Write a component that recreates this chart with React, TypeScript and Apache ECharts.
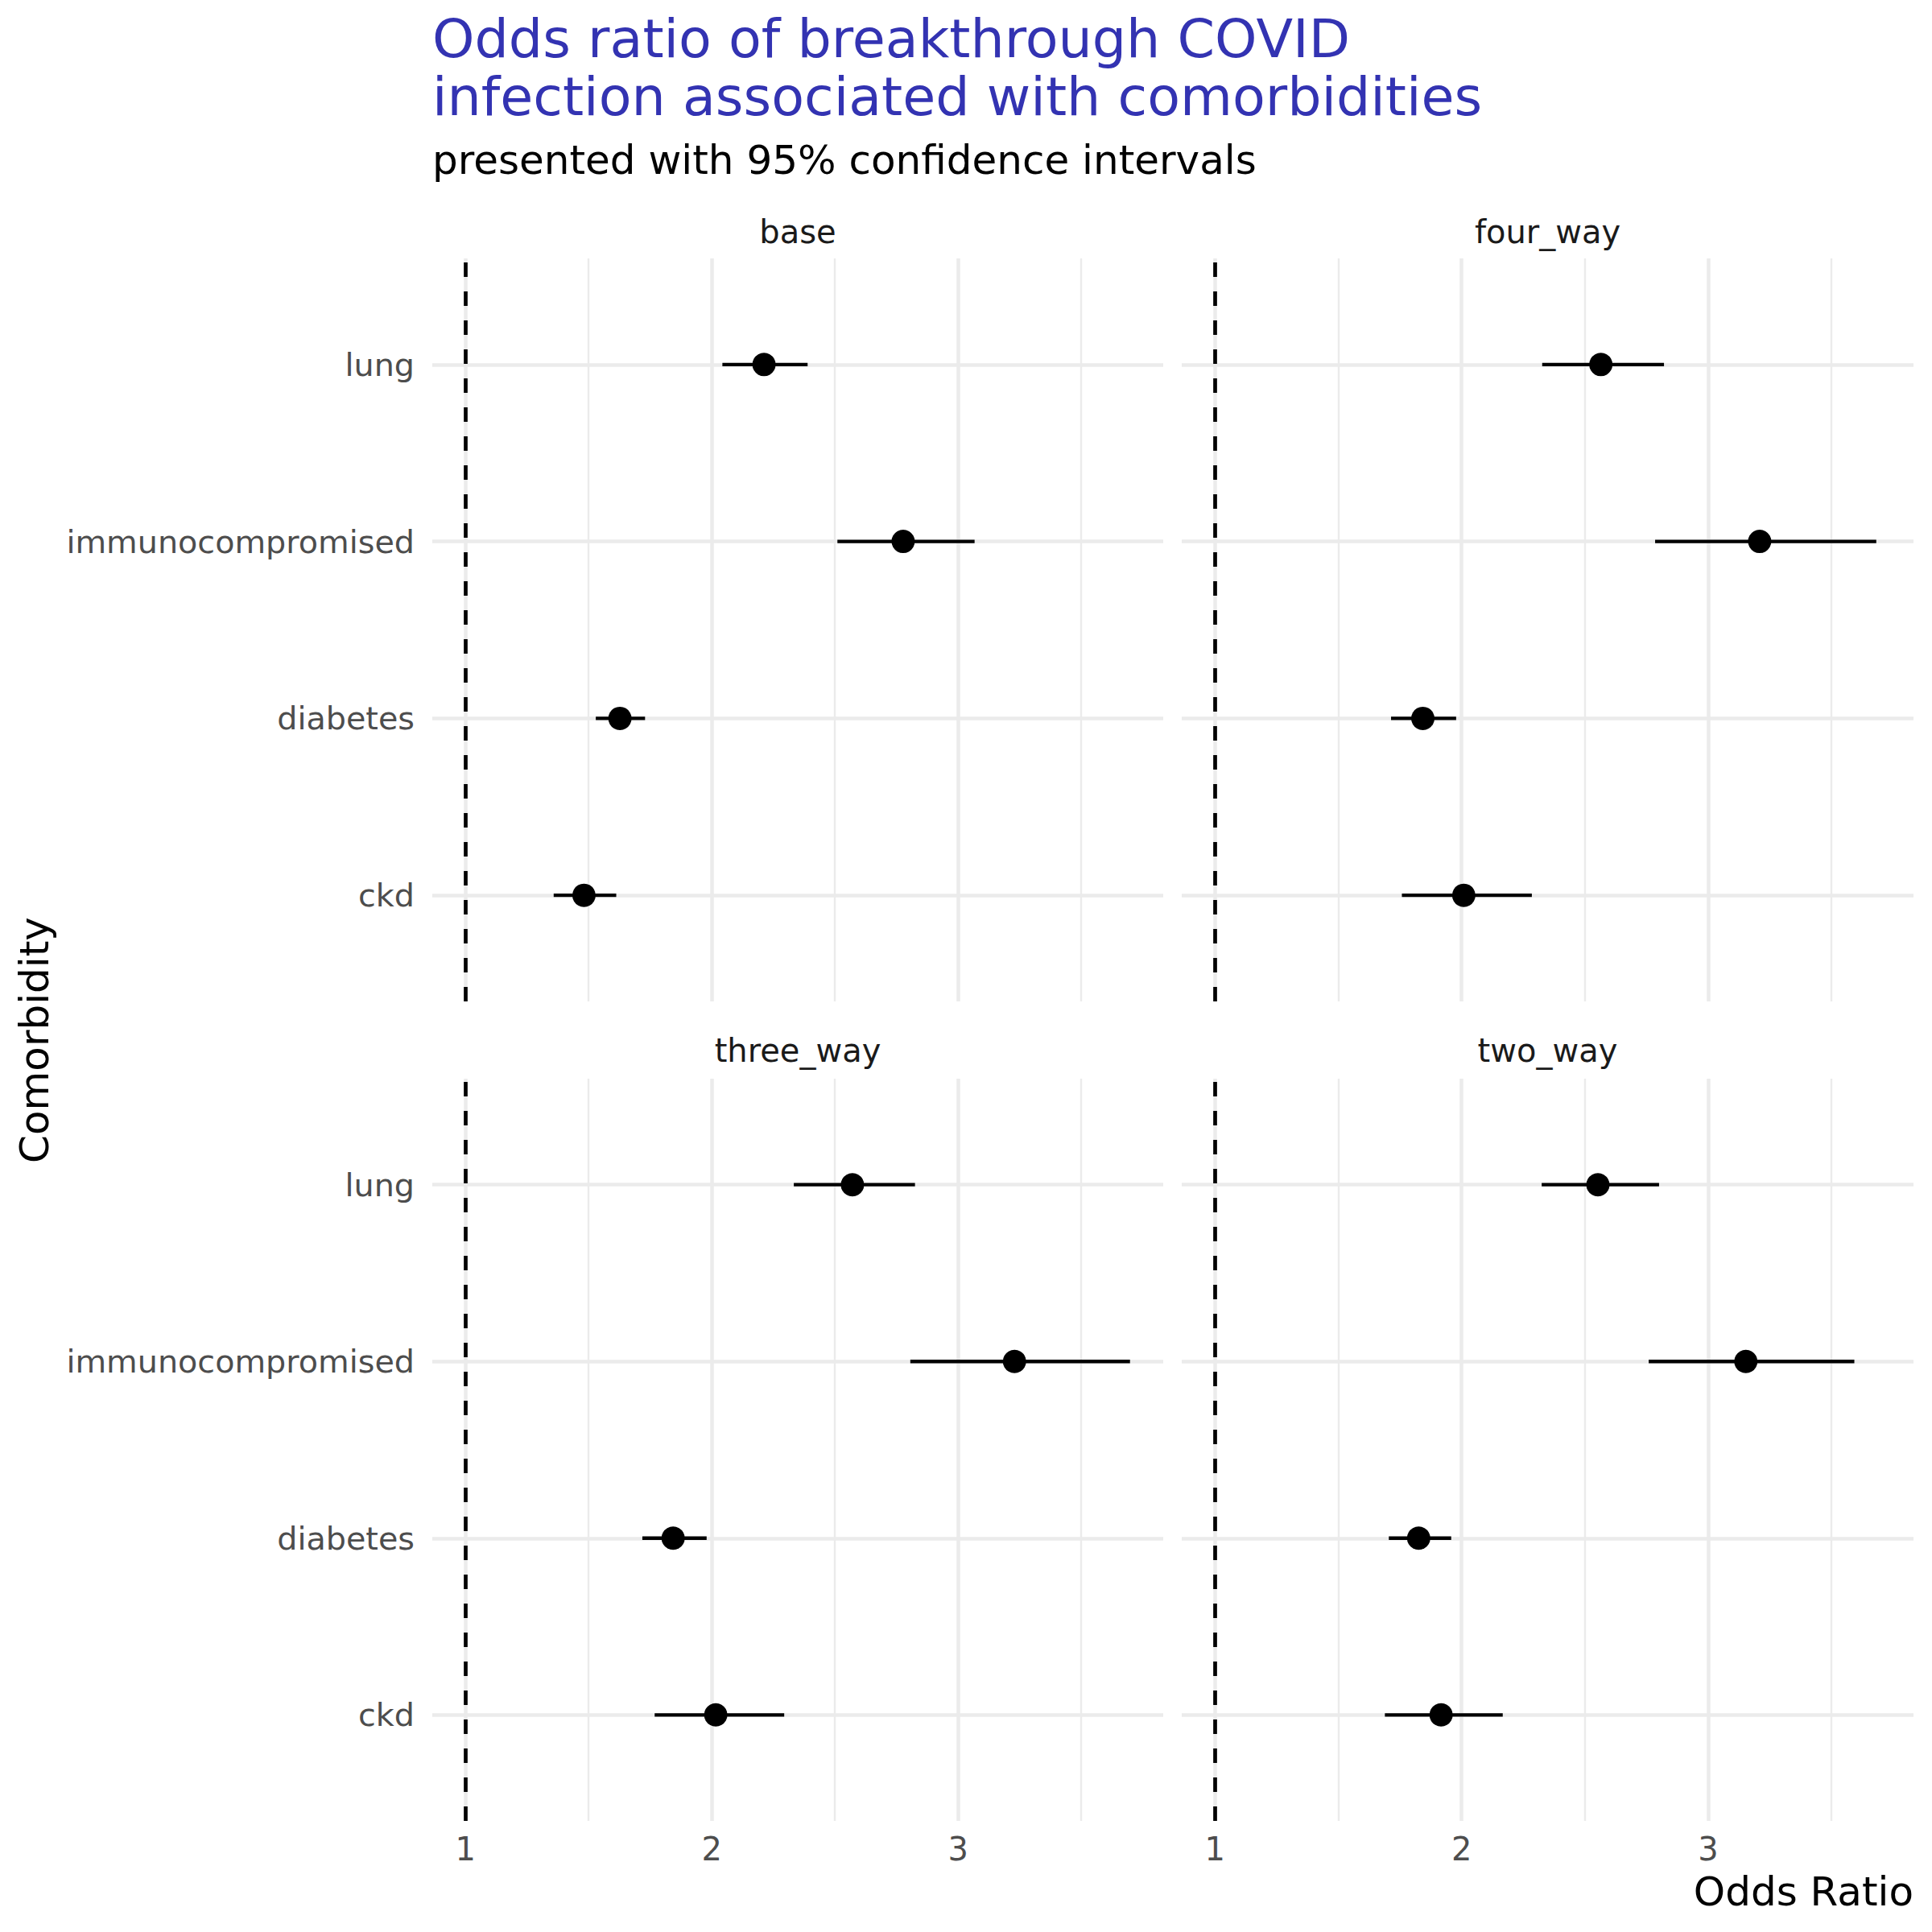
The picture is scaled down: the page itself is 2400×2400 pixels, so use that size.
import React, { useEffect, useRef } from 'react';
import * as echarts from 'echarts';

// Categories, bottom to top
const categories = ['ckd', 'diabetes', 'immunocompromised', 'lung'];
const panelNames = ['base', 'four_way', 'three_way', 'two_way'];

// Odds ratio estimates (order: ckd, diabetes, immunocompromised, lung)
const baseEst = [1.481, 1.627, 2.777, 2.212];
const baseLo = [1.358, 1.529, 2.51, 2.043];
const baseHi = [1.612, 1.729, 3.067, 2.389];

const fourWayEst = [2.009, 1.843, 3.209, 2.565];
const fourWayLo = [1.758, 1.714, 2.785, 2.327];
const fourWayHi = [2.285, 1.978, 3.682, 2.821];

const threeWayEst = [2.016, 1.843, 3.229, 2.571];
const threeWayLo = [1.768, 1.718, 2.806, 2.333];
const threeWayHi = [2.294, 1.979, 3.698, 2.825];

const twoWayEst = [1.917, 1.826, 3.153, 2.553];
const twoWayLo = [1.689, 1.705, 2.759, 2.325];
const twoWayHi = [2.167, 1.958, 3.593, 2.801];

const xTicks = [1, 2, 3];
const xMinorTicks = [1.5, 2.5, 3.5];
const referenceValue = 1;

const TITLE = 'Odds ratio of breakthrough COVID\ninfection associated with comorbidities';
const SUBTITLE = 'presented with 95% confidence intervals';
const X_TITLE = 'Odds Ratio';
const Y_TITLE = 'Comorbidity';

const FONT = 'DejaVu Sans';

export default function App() {
  const ref = useRef<HTMLDivElement>(null);

  useEffect(() => {
    if (!ref.current) return;
    const chart = echarts.init(ref.current, undefined, { renderer: 'svg' });

    const panelData = [
      { est: baseEst, lo: baseLo, hi: baseHi },
      { est: fourWayEst, lo: fourWayLo, hi: fourWayHi },
      { est: threeWayEst, lo: threeWayLo, hi: threeWayHi },
      { est: twoWayEst, lo: twoWayLo, hi: twoWayHi },
    ];

    const allHi = panelData.flatMap((p) => p.hi);
    const allLo = panelData.flatMap((p) => p.lo);
    const dMax = Math.max(...allHi, referenceValue);
    const dMin = Math.min(...allLo, referenceValue);
    const span = dMax - dMin;
    const xMin = dMin - 0.05 * span;
    const xMax = dMax + 0.05 * span;
    const yMin = 1 - 0.6;
    const yMax = categories.length + 0.6;

    const gridRects = [
      { left: 537, top: 321, width: 908, height: 923 },
      { left: 1468, top: 321, width: 909, height: 923 },
      { left: 537, top: 1340, width: 908, height: 922 },
      { left: 1468, top: 1340, width: 909, height: 922 },
    ];
    const stripY = [288, 288, 1305, 1305];

    const majorStyle = { color: '#EBEBEB', width: 4.5, type: 'solid' as const };
    const minorStyle = { color: '#EBEBEB', width: 2.4, type: 'solid' as const };

    const xAxes: any[] = [];
    const yAxes: any[] = [];
    const series: any[] = [];
    const graphics: any[] = [];

    panelData.forEach((p, i) => {
      const showX = i >= 2;
      const showY = i % 2 === 0;
      xAxes.push({
        gridIndex: i,
        type: 'value',
        min: xMin,
        max: xMax,
        axisLine: { show: false },
        axisTick: { show: false },
        splitLine: { show: false },
        axisLabel: {
          show: showX,
          customValues: xTicks,
          fontSize: 40,
          fontFamily: FONT,
          color: '#4D4D4D',
          margin: 15,
          formatter: (v: number) => String(v),
        },
      });
      yAxes.push({
        gridIndex: i,
        type: 'value',
        min: yMin,
        max: yMax,
        axisLine: { show: false },
        axisTick: { show: false },
        splitLine: { show: false },
        axisLabel: {
          show: showY,
          customValues: categories.map((_, k) => k + 1),
          fontSize: 39.7,
          fontFamily: FONT,
          color: '#4D4D4D',
          margin: 22,
          formatter: (v: number) => categories[Math.round(v) - 1] ?? '',
        },
      });

      // grid lines
      series.push({
        type: 'line',
        xAxisIndex: i,
        yAxisIndex: i,
        data: [],
        z: 1,
        silent: true,
        markLine: {
          z: 1,
          silent: true,
          symbol: ['none', 'none'],
          label: { show: false },
          emphasis: { disabled: true },
          data: [
            ...xMinorTicks.map((v) => ({ xAxis: v, lineStyle: minorStyle })),
            ...xTicks.map((v) => ({ xAxis: v, lineStyle: majorStyle })),
            ...categories.map((_, k) => ({ yAxis: k + 1, lineStyle: majorStyle })),
          ],
        },
      });

      // reference dashed line
      series.push({
        type: 'line',
        xAxisIndex: i,
        yAxisIndex: i,
        data: [],
        z: 2,
        silent: true,
        markLine: {
          z: 2,
          silent: true,
          symbol: ['none', 'none'],
          label: { show: false },
          emphasis: { disabled: true },
          data: [{ xAxis: referenceValue }],
          lineStyle: { color: '#000000', width: 4.7, type: [18, 18], opacity: 1 },
        },
      });

      // error bars
      series.push({
        type: 'custom',
        xAxisIndex: i,
        yAxisIndex: i,
        z: 3,
        silent: true,
        data: categories.map((_, k) => [p.lo[k], p.hi[k], k + 1]),
        encode: { x: [0, 1], y: 2 },
        renderItem: (params: any, api: any) => {
          const a = api.coord([api.value(0), api.value(2)]);
          const b = api.coord([api.value(1), api.value(2)]);
          return {
            type: 'line',
            shape: { x1: a[0], y1: a[1], x2: b[0], y2: b[1] },
            style: { stroke: '#000000', lineWidth: 4.3, opacity: 1 },
          };
        },
      });

      // points
      series.push({
        type: 'scatter',
        xAxisIndex: i,
        yAxisIndex: i,
        z: 4,
        silent: true,
        symbol: 'circle',
        symbolSize: 29,
        itemStyle: { color: '#000000', opacity: 1 },
        data: categories.map((_, k) => [p.est[k], k + 1]),
      });

      const g = gridRects[i];
      graphics.push({
        type: 'text',
        x: g.left + g.width / 2,
        y: stripY[i],
        style: {
          text: panelNames[i],
          fontSize: 40,
          fontFamily: FONT,
          fill: '#1A1A1A',
          align: 'center',
          verticalAlign: 'middle',
        },
      });
    });

    graphics.push(
      {
        type: 'text',
        x: 537,
        y: 12,
        style: {
          text: TITLE,
          fontSize: 66.7,
          lineHeight: 72,
          fontFamily: FONT,
          fill: '#3333B2',
          align: 'left',
          verticalAlign: 'top',
        },
      },
      {
        type: 'text',
        x: 537,
        y: 199,
        style: {
          text: SUBTITLE,
          fontSize: 50,
          fontFamily: FONT,
          fill: '#000000',
          align: 'left',
          verticalAlign: 'middle',
        },
      },
      {
        type: 'text',
        x: 2377,
        y: 2350,
        style: {
          text: X_TITLE,
          fontSize: 50,
          fontFamily: FONT,
          fill: '#000000',
          align: 'right',
          verticalAlign: 'middle',
        },
      },
      {
        type: 'text',
        x: 43,
        y: 1292,
        rotation: Math.PI / 2,
        style: {
          text: Y_TITLE,
          fontSize: 50,
          fontFamily: FONT,
          fill: '#000000',
          align: 'center',
          verticalAlign: 'middle',
        },
      }
    );

    chart.setOption({
      animation: false,
      backgroundColor: '#FFFFFF',
      textStyle: { fontFamily: FONT },
      grid: gridRects.map((g) => ({ ...g, containLabel: false })),
      xAxis: xAxes,
      yAxis: yAxes,
      series,
      graphic: graphics,
    });

    return () => chart.dispose();
  }, []);

  return (
    <div
      ref={ref}
      style={{ position: 'absolute', left: 0, top: 0, width: 2400, height: 2400 }}
    />
  );
}
